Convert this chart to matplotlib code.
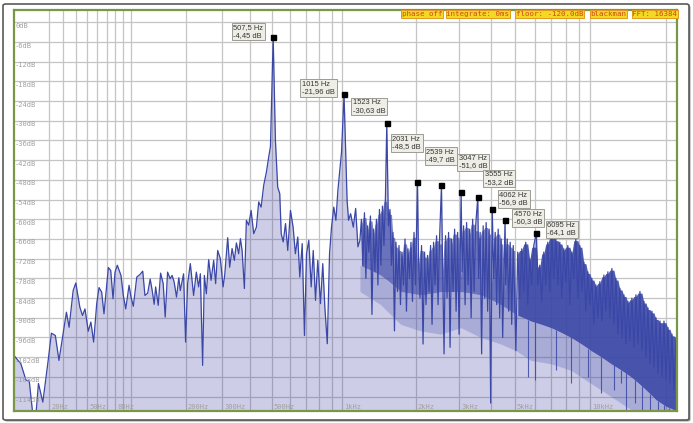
import matplotlib.pyplot as plt
import matplotlib.transforms as mtransforms
import numpy as np
from matplotlib.patches import FancyBboxPatch

# trace below ~1.2 kHz (Hz, dB)
low_freqs = [
    0, 3.4, 6.1, 7.9, 9.8, 11.8, 13.2, 15.9, 19.2, 21.5, 24.2, 26.8, 29.8, 32.4,
    34.5, 37.8, 40.0, 43.5, 45.9, 48.1, 51.2, 53.7, 56.4, 59.5, 61.9, 64.7, 67.2,
    72.1, 74.8, 77.5, 79.9, 82.7, 87.3, 90.3, 93.5, 98, 100.7, 104, 109, 113.8,
    118, 121.5, 125.9, 130, 133.4, 136.8, 139.3, 143.9, 148.2, 153, 156.8, 161.4,
    166.5, 170.5, 174.6, 179.6, 184.5, 187.7, 195.0, 199.6, 204.3, 210.7, 218.7,
    225.5, 231.4, 235.9, 242.0, 246.6, 252.1, 258.6, 265.5, 273.1, 279.1, 285.2,
    293.6, 302.3, 307.5, 317.5, 324.3, 332.6, 340.7, 348.0, 356.5, 362.9, 369.4,
    378.3, 386.2, 395.6, 405.5, 416.5, 428.1, 438.3, 449.2, 461.3, 474.1, 485.2,
    493.7, 507.5, 519, 531, 542, 550, 561, 574, 587, 603, 619, 633, 648, 661,
    677, 692, 706, 722, 739, 754, 771, 788, 809, 827, 844, 864, 883, 900, 920,
    939, 957, 975, 991, 1015, 1035, 1045, 1060, 1081, 1109, 1134, 1159, 1181,
]
low_db = [
    -101.5, -104, -109, -109.3, -119, -119, -110, -115.7, -103.5, -94.7, -95.4,
    -103, -94.9, -88.3, -92.9, -81.7, -79.4, -86.8, -89.3, -87.3, -94.1, -91.3,
    -97.4, -85.7, -80.8, -82.2, -88.8, -74.7, -75.6, -84.2, -76.1, -74.0, -77.1,
    -83.2, -87.3, -80.1, -83.7, -86.5, -77.6, -76.8, -75.8, -83.2, -82.5, -78.2,
    -81.7, -85.9, -80.6, -86.2, -76.4, -79.6, -89.8, -76.1, -78.1, -77.1, -79.1,
    -83.7, -77.8, -81.7, -76.6, -97.4, -79.6, -73.5, -83.2, -76.1, -80.6, -76.6,
    -104.5, -77.1, -82.7, -72.3, -78.6, -72.5, -79.6, -69.5, -72.0, -80.6, -77.1,
    -65.6, -74.6, -68.9, -72.5, -67.2, -70.5, -65.9, -69.5, -81.1, -60.3, -61.8,
    -57.3, -64.4, -62.4, -54.7, -56.3, -49.6, -45.6, -41.0, -37.9, -4.45, -36,
    -50.2, -52.2, -64.4, -66.9, -61.3, -69.5, -57.3, -62.4, -70.5, -65.4, -77.6,
    -67.4, -95.4, -70.5, -66.4, -80.6, -69.5, -84.7, -72.5, -85.7, -73.5, -86.8,
    -97.9, -70.5, -62.4, -56.3, -60.3, -51.2, -45.1, -39.5, -21.96, -44, -54.2,
    -60.3, -58.3, -62.4, -56.7, -68.4, -66.4,
]

# 1.2 - 5 kHz: the trace zigzags quickly; read stroke by stroke, roughly
mid_freqs = [
    1198, 1215, 1233, 1250, 1268, 1286, 1305, 1324, 1343, 1362, 1381, 1401,
    1421, 1441, 1462, 1483, 1504, 1523, 1547, 1569, 1591, 1614, 1637, 1660,
    1684, 1708, 1732, 1757, 1782, 1807, 1832, 1858, 1885, 1911, 1938, 1966,
    1994, 2031, 2050, 2079, 2109, 2139, 2169, 2199, 2230, 2262, 2294, 2326,
    2359, 2392, 2426, 2460, 2494, 2539, 2565, 2601, 2637, 2674, 2712, 2750,
    2789, 2828, 2868, 2908, 2949, 2990, 3047, 3074, 3117, 3161, 3205, 3250,
    3296, 3342, 3389, 3436, 3484, 3555, 3582, 3632, 3683, 3735, 3787, 3840,
    3893, 3948, 4003, 4062, 4115, 4173, 4231, 4290, 4350, 4410, 4472, 4570,
    4597, 4661, 4726, 4792, 4859, 4927, 4995, 5048,
]
mid_db = [
    -60, -74, -58, -78, -62, -70, -59, -89, -63, -76, -60, -80, -57, -74, -56,
    -68, -53, -30.63, -62, -57, -74, -64, -94, -67, -82, -68, -86, -70, -80,
    -66, -88, -69, -78, -67, -85, -64, -80, -48.5, -72, -84, -68, -98, -70,
    -86, -71, -82, -68, -92, -67, -80, -65, -86, -66, -49.7, -74, -101, -65,
    -84, -64, -99, -66, -82, -63, -88, -64, -95, -51.6, -76, -62, -86, -61,
    -80, -63, -90, -60, -82, -62, -53.2, -78, -64, -101, -62, -84, -61, -88,
    -63, -116, -56.9, -78, -64, -86, -63, -90, -66, -96, -60.3, -80, -66, -88,
    -67, -92, -68, -85, -100,
]

# above 5 kHz the strokes merge into a solid band; top strokes read roughly
high_freqs = [
    5135, 5230, 5328, 5427, 5528, 5631, 5735, 5842, 5950, 6095, 6173, 6287,
    6404, 6523, 6644, 6767, 6892, 7020, 7150, 7283, 7418, 7555, 7695, 7838,
    7983, 8131, 8281, 8435, 8591, 8750, 8912, 9077, 9245, 9416, 9590, 9767,
    9948, 10132, 10319, 10510, 10705, 10903, 11104, 11309, 11518, 11731, 11948,
    12169, 12394, 12623, 12856, 13094, 13336, 13582, 13833, 14088, 14348, 14613,
    14883, 15158, 15438, 15723, 16013, 16309, 16610, 16916, 17228, 17546, 17870,
    18200, 18536, 18878, 19226, 19581, 19942, 20310, 20685, 21066, 21455, 21851,
    22050,
]
high_db = [
    -70, -84, -69, -82, -67, -86, -72, -80, -68, -64.1, -80, -74, -85, -70, -80,
    -67, -82, -65, -78, -66, -80, -67, -84, -69, -79, -68, -86, -70, -78, -66,
    -84, -68, -82, -73, -88, -76, -86, -78, -92, -80, -90, -79, -91, -77, -88,
    -76, -90, -75, -92, -78, -95, -81, -96, -83, -98, -85, -97, -84, -99, -83,
    -98, -82, -100, -85, -102, -87, -104, -88, -105, -90, -107, -91, -108, -91,
    -109, -93, -110, -95, -112, -96, -104,
]

# bottom of the dense core and of the sparser strokes under it
band_freqs = [1181, 1437, 1735, 2092, 2522, 3036, 3654, 4396, 5048, 5797,
              6964, 8369, 10054, 12073, 14496, 16631, 18227, 19970, 22050]
band_core = [-74, -77, -82, -83, -82, -82, -83, -86, -89, -91, -93, -96, -100,
             -104, -108, -112, -115, -117, -118.4]
band_floor = [-82, -86, -92, -94, -95, -93, -96, -98, -100, -103, -104, -106,
              -110, -114, -118, -118.4, -118.4, -118.4, -118.4]

# single deep strokes below the band
dip_freqs = [5650, 6000, 7300, 8369, 9800, 11019, 12400, 13229, 13849, 15000,
             16000, 17200, 18510, 19500, 20500, 21500]
dip_db = [-108, -109, -106, -110, -108, -113, -112, -110, -119, -116, -119,
          -119, -119, -119, -119, -119]

# marked harmonics
peak_freqs = [507.5, 1015, 1523, 2031, 2539, 3047, 3555, 4062, 4570, 6095]
peak_db = [-4.45, -21.96, -30.63, -48.5, -49.7, -51.6, -53.2, -56.9, -60.3, -64.1]
# where each label box sits relative to its marker, in pixels (x right, y up)
label_offsets = [(-42, 14), (-44, 15), (-36, 25), (-27, 47), (-17, 38),
                 (-4, 38), (5, 27), (5, 19), (7, 11), (9, 12)]

grid_freqs = ([20, 30, 40, 50, 60, 70, 80, 90]
              + list(range(100, 1000, 100))
              + list(range(1000, 10000, 1000)) + [10000, 20000])
freq_labels = {20: "20Hz", 50: "50Hz", 80: "80Hz", 200: "200Hz", 300: "300Hz",
               500: "500Hz", 1000: "1kHz", 2000: "2kHz", 3000: "3kHz",
               5000: "5kHz", 10000: "10kHz"}
db_ticks = list(range(0, -115, -6))

status_items = ["phase off", "integrate: 0ms", "floor: -120.0dB", "blackman",
                "FFT: 16384"]
status_left_px = [400, 445, 514.5, 589, 631]

LINE = "#3a47a6"
FILL = "#3a3aa0"
GREEN = "#7a9646"
W, H = 693, 423


def fwd(f):
    return np.log10(np.asarray(f, dtype=float) + 53.0)


def inv(v):
    return 10 ** np.asarray(v, dtype=float) - 53.0


def stroke_envelope(freqs, db):
    """Highest stroke around each point, leaving out the marked harmonics."""
    db = np.asarray(db, dtype=float)
    prev_db = np.r_[db[0], db[:-1]]
    next_db = np.r_[db[1:], db[-1]]
    noise = np.where(np.isin(freqs, peak_freqs), np.minimum(prev_db, next_db), db)
    prev_n = np.r_[noise[0], noise[:-1]]
    next_n = np.r_[noise[1:], noise[-1]]
    return np.maximum(noise, np.maximum(prev_n, next_n))


fig = plt.figure(figsize=(W / 100, H / 100), dpi=100)
fig.patch.set_facecolor("white")

# outer panel frame with a small shadow, kept behind the axes
shadow = FancyBboxPatch((4.5 / W, 1.5 / H), 686 / W, 416 / H,
                        boxstyle="round,pad=0,rounding_size=0.004",
                        transform=fig.transFigure, facecolor="#9a9a9a",
                        edgecolor="none", zorder=-2)
frame = FancyBboxPatch((3 / W, 3 / H), 686 / W, 416 / H,
                       boxstyle="round,pad=0,rounding_size=0.004",
                       transform=fig.transFigure, facecolor="white",
                       edgecolor="#5a5a5a", linewidth=1.2, zorder=-1)
fig.patches.extend([shadow, frame])

ax = fig.add_axes([14 / W, 1 - 411 / H, (677 - 14) / W, (411 - 10) / H])
ax.set_facecolor("white")
ax.set_xscale("function", functions=(fwd, inv))
ax.set_xlim(0, 22050)
ax.set_ylim(-118.4, 3.75)

ax.set_xticks(grid_freqs)
ax.set_yticks(db_ticks)
ax.tick_params(length=0, labelbottom=False, labelleft=False)
ax.grid(True, color="#c4c4c4", linewidth=0.9, zorder=0.5)
ax.set_axisbelow(True)
for side in ax.spines.values():
    side.set_color(GREEN)
    side.set_linewidth(1.6)

trace_f = np.concatenate([low_freqs, mid_freqs, high_freqs]).astype(float)
trace_db = np.concatenate([low_db, mid_db, high_db]).astype(float)
bfreq = np.array(band_freqs, dtype=float)

# lavender area under the whole trace
ax.fill_between(trace_f, -130, trace_db, color=FILL, alpha=0.25, linewidth=0,
                zorder=1)

# density of the overlapping strokes above 1.2 kHz
mf = np.array(mid_freqs, dtype=float)
m_env = stroke_envelope(mf, mid_db)
m_core = np.interp(mf, bfreq, band_core)
ax.fill_between(mf, m_core, np.maximum(m_env - 1.5, m_core), color=LINE,
                alpha=0.68, linewidth=0, zorder=1.5)
hf = np.array(high_freqs, dtype=float)
h_env = stroke_envelope(hf, high_db)
h_core = np.interp(hf, bfreq, band_core)
ax.fill_between(hf, h_core, np.maximum(h_env - 0.5, h_core), color=LINE,
                alpha=0.9, linewidth=0, zorder=1.5)
ax.fill_between(bfreq, band_floor, band_core, color=LINE, alpha=0.24,
                linewidth=0, zorder=1.4)

dip_top = np.interp(dip_freqs, bfreq, band_core)
ax.vlines(dip_freqs, dip_db, dip_top, color=LINE, linewidth=0.8, alpha=0.85,
          zorder=2)

# the trace itself
ax.plot(trace_f, trace_db, color=LINE, linewidth=0.9, zorder=2.2)

ax.plot(peak_freqs, peak_db, linestyle="none", marker="s", markersize=3.6,
        color="black", zorder=4)

for f, db, (dx, dy) in zip(peak_freqs, peak_db, label_offsets):
    label = f"{f:g} Hz\n{db:g} dB".replace(".", ",")
    ax.annotate(label, xy=(f, db), xytext=(dx + 2, dy - 1.5),
                textcoords="offset pixels", ha="left", va="top",
                fontsize=5.4, family="Liberation Sans", color="#333333",
                linespacing=1.05, zorder=5,
                bbox=dict(boxstyle="square,pad=0.22", facecolor="#eeeee6",
                          edgecolor="#9c9c94", linewidth=0.7))

# in-plot axis labels
xlab_tr = mtransforms.offset_copy(ax.get_xaxis_transform(), fig=fig,
                                  x=2, y=1, units="dots")
for f, text in freq_labels.items():
    ax.text(f, 0, text, transform=xlab_tr, ha="left", va="bottom",
            fontsize=5, family="DejaVu Sans Mono", color="#a0a0a0", zorder=3)

ylab_tr = mtransforms.offset_copy(ax.get_yaxis_transform(), fig=fig,
                                  x=1, y=-0.5, units="dots")
for db in db_ticks:
    ax.text(0, db, f"{db}dB", transform=ylab_tr, ha="left", va="top",
            fontsize=5, family="DejaVu Sans Mono", color="#a0a0a0", zorder=3)

# status strip in the top right corner
for text, left in zip(status_items, status_left_px):
    fig.text((left + 1.5) / W, 1 - 14.2 / H, text, ha="left", va="center",
             fontsize=5.4, family="DejaVu Sans Mono", color="#d2461e",
             bbox=dict(boxstyle="square,pad=0.12", facecolor="#f2da24",
                       edgecolor="#e39a1c", linewidth=0.7), zorder=6)

fig.savefig("out.png", dpi=100)
